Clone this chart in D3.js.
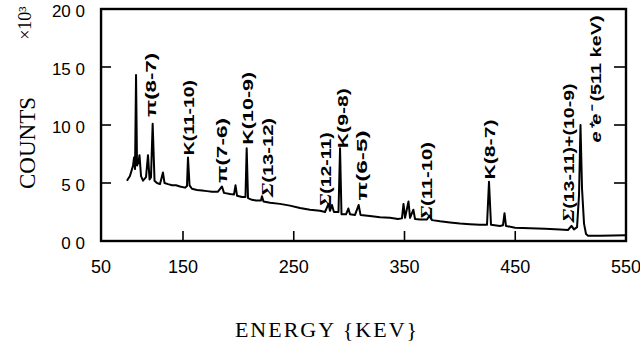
<!DOCTYPE html>
<html>
<head>
<meta charset="utf-8">
<script src="https://cdn.jsdelivr.net/npm/d3@7"></script>
<style>
	body { margin: 0; background: #fff; }
	svg { display: block; }
</style>
</head>
<body>
<div class="container"></div>
<script>
	"use strict";

	// spectrum (energy in keV, counts in 10^3)
	var energy = [99.4, 102.1, 104.9, 105.8, 106.7, 107.6, 108.5, 109.8, 110.7, 112.1,
		113.9, 116.6, 118.4, 119.8, 121.1, 122.6, 124.3, 126.5, 129.2, 131.9,
		133.3, 136.5, 140.1, 143.7, 147.3, 151.8, 153.6, 154.5, 155.9, 158.1,
		162.6, 167.2, 171.7, 176.2, 181.6, 185.2, 187.0, 192.4, 196.0, 197.4,
		198.8, 203.3, 206.4, 207.5, 208.7, 212.3, 215.9, 220.4, 221.3, 222.7,
		228.6, 237.6, 246.6, 255.6, 264.7, 273.7, 278.2, 281.4, 282.7, 284.5,
		286.3, 290.4, 291.8, 293.1, 297.2, 299.3, 300.8, 305.3, 308.6, 310.3,
		318.8, 327.9, 336.9, 344.1, 347.7, 349.1, 350.5, 353.6, 355.0, 358.0,
		359.5, 364.0, 370.3, 372.6, 374.8, 382.1, 391.1, 400.1, 409.1, 418.2,
		424.5, 426.3, 428.1, 436.2, 438.9, 440.3, 441.6, 449.8, 463.3, 476.9,
		490.4, 497.6, 500.8, 503.0, 505.8, 507.6, 508.9, 510.3, 512.1, 513.9,
		515.7, 526.5, 550.0];
	var counts = [5.2, 5.6, 6.5, 7.2, 6.2, 14.3, 6.5, 6.8, 7.4, 5.6,
		5.2, 5.5, 7.4, 5.3, 5.5, 10.1, 5.2, 5.0, 4.9, 5.9,
		5.0, 4.9, 4.8, 4.8, 4.7, 4.6, 4.75, 7.2, 4.8, 4.5,
		4.4, 4.35, 4.3, 4.25, 4.25, 4.7, 4.15, 4.05, 4.0, 4.8,
		3.9, 3.8, 3.8, 8.0, 3.7, 3.55, 3.5, 3.5, 3.85, 3.4,
		3.3, 3.2, 3.05, 2.85, 2.7, 2.6, 2.5, 3.2, 2.6, 3.1,
		2.5, 2.5, 8.0, 2.3, 2.3, 2.8, 2.3, 2.25, 3.1, 2.25,
		2.15, 2.05, 2.0, 1.9, 1.95, 3.2, 2.0, 3.4, 2.0, 2.7,
		1.9, 1.85, 1.85, 2.2, 1.8, 1.7, 1.6, 1.5, 1.45, 1.4,
		1.4, 5.1, 1.4, 1.3, 1.35, 2.4, 1.3, 1.15, 1.1, 1.05,
		1.0, 0.95, 1.3, 1.0, 1.2, 4.0, 10.0, 4.5, 1.5, 0.6,
		0.45, 0.45, 0.5];

	var xTicks = [150, 250, 350, 450];
	var xTickLabels = ["50", "150", "250", "350", "450", "550"];
	var xTickLabelAt = [76, 150, 250, 350, 450, 550];
	var yTicks = [5, 10, 15];
	var yTickLabels = ["0 0", "5 0", "10 0", "15 0", "20 0"];
	var yTickLabelAt = [0, 5, 10, 15, 20];

	// peak annotations: text, energy of label centre, counts at label foot
	var peakNames = ["π(8-7)", "K(11-10)", "π(7-6)", "K(10-9)", "Σ(13-12)", "Σ(12-11)",
		"K(9-8)", "π(6-5)", "Σ(11-10)", "K(8-7)", "Σ(13-11)+(10-9)", "e⁺e⁻ (511 keV)"];
	var peakLabelEnergy = [120.8, 155.4, 184.9, 208.7, 226.7, 279.1,
		294.5, 311.6, 370.3, 427.2, 498.5, 522.9];
	var peakLabelBase = [10.7, 7.4, 5.0, 8.3, 3.8, 2.9,
		8.0, 3.5, 1.8, 5.3, 1.6, 8.5];

	// drawn length of each rotated label, px
	var peakLabelSpan = [64, 75, 65, 73, 79, 75, 60, 70, 78, 60, 139, 127];

	var iWidth = 640;
	var iHeight = 349;

	var x = d3.scaleLinear().domain([50, 550]).range([72.25, 626]);
	var y = d3.scaleLinear().domain([0, 20]).range([241, 9]);
	var xLeft = x(76);

	var oSVG = d3.select(".container")
		.append("svg")
		.attr("width", iWidth)
		.attr("height", iHeight);

	oSVG.append("clipPath")
		.attr("id", "plotClip")
		.append("rect")
		.attr("x", xLeft)
		.attr("y", y(20))
		.attr("width", x(550) - xLeft)
		.attr("height", y(0) - y(20));

	// spectrum line
	var line = d3.line()
		.x(function(d) { return x(d[0]); })
		.y(function(d) { return y(d[1]); });

	oSVG.append("path")
		.datum(d3.zip(energy, counts))
		.attr("clip-path", "url(#plotClip)")
		.attr("d", line)
		.attr("fill", "none")
		.attr("stroke", "#000")
		.attr("stroke-width", 2)
		.attr("stroke-linejoin", "round");

	// frame
	oSVG.append("rect")
		.attr("x", xLeft)
		.attr("y", y(20))
		.attr("width", x(550) - xLeft)
		.attr("height", y(0) - y(20))
		.attr("fill", "none")
		.attr("stroke", "#000")
		.attr("stroke-width", 2.4);

	// inward ticks
	oSVG.selectAll("line.xtick")
		.data(xTicks)
		.enter()
		.append("line")
		.attr("x1", function(d) { return x(d); })
		.attr("x2", function(d) { return x(d); })
		.attr("y1", y(0))
		.attr("y2", y(0) - 10)
		.attr("stroke", "#000")
		.attr("stroke-width", 1.6);

	oSVG.selectAll("line.ytickL")
		.data(yTicks)
		.enter()
		.append("line")
		.attr("x1", xLeft)
		.attr("x2", xLeft + 10)
		.attr("y1", function(d) { return y(d); })
		.attr("y2", function(d) { return y(d); })
		.attr("stroke", "#000")
		.attr("stroke-width", 1.6);

	oSVG.selectAll("line.ytickR")
		.data(yTicks)
		.enter()
		.append("line")
		.attr("x1", x(550))
		.attr("x2", x(550) - 12)
		.attr("y1", function(d) { return y(d); })
		.attr("y2", function(d) { return y(d); })
		.attr("stroke", "#000")
		.attr("stroke-width", 1.6);

	// tick labels
	oSVG.selectAll("text.xlab")
		.data(xTickLabels)
		.enter()
		.append("text")
		.attr("x", function(d, i) { return x(xTickLabelAt[i]); })
		.attr("y", 273)
		.attr("text-anchor", "middle")
		.style("font-family", "'Liberation Sans', Arial, sans-serif")
		.style("font-size", "18px")
		.text(function(d) { return d; });

	oSVG.selectAll("text.ylab")
		.data(yTickLabels)
		.enter()
		.append("text")
		.attr("x", 85)
		.attr("y", function(d, i) { return y(yTickLabelAt[i]) + 2; })
		.attr("dy", "0.35em")
		.attr("text-anchor", "end")
		.style("font-family", "'Liberation Sans', Arial, sans-serif")
		.style("font-size", "17px")
		.text(function(d) { return d; });

	// axis titles
	oSVG.append("text")
		.attr("transform", "translate(27,143) rotate(-90)")
		.attr("dy", "0.35em")
		.attr("text-anchor", "middle")
		.style("font-family", "'Liberation Serif', 'Times New Roman', serif")
		.style("font-size", "23px")
		.text("COUNTS");

	oSVG.append("text")
		.attr("transform", "translate(25,23) rotate(-90)")
		.attr("dy", "0.35em")
		.attr("text-anchor", "middle")
		.style("font-family", "'Liberation Serif', 'Times New Roman', serif")
		.style("font-size", "18px")
		.text("×10³");

	oSVG.append("text")
		.attr("x", 327)
		.attr("y", 337)
		.attr("text-anchor", "middle")
		.style("font-family", "'Liberation Serif', 'Times New Roman', serif")
		.style("font-size", "22px")
		.style("letter-spacing", "2px")
		.text("ENERGY {KEV}");

	// peak labels, written bottom to top
	var labels = oSVG.selectAll("g.peak")
		.data(peakNames)
		.enter()
		.append("g")
		.attr("transform", function(d, i) {
			return "translate(" + x(peakLabelEnergy[i]) + "," + y(peakLabelBase[i]) + ") rotate(-90)";
		});

	var labelText = labels.append("text")
		.attr("dy", "0.36em")
		.attr("textLength", function(d, i) { return peakLabelSpan[i]; })
		.attr("lengthAdjust", "spacingAndGlyphs")
		.style("font-family", "'Liberation Sans', Arial, sans-serif")
		.style("font-size", "15px")
		.style("font-weight", "bold");

	labelText.each(function(d) {
		var t = d3.select(this);
		if (d.charAt(0) === "Σ") {
			t.append("tspan").style("font-style", "italic")
				.style("font-family", "'Liberation Serif', serif")
				.style("font-size", "17px").text("Σ");
			t.append("tspan").text(d.slice(1));
		} else if (d.charAt(0) === "e") {
			t.append("tspan").style("font-style", "italic").text("e⁺e⁻");
			t.append("tspan").text(d.slice(4));
		} else {
			t.text(d);
		}
	});
</script>
</body>
</html>
